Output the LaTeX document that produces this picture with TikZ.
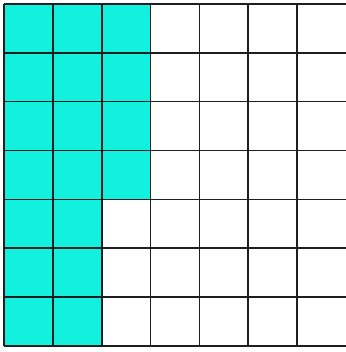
\documentclass[tikz,border=0pt]{standalone}
\definecolor{cellcyan}{RGB}{18,240,222}
\definecolor{gridline}{RGB}{30,30,30}
\tikzset{gridstroke/.style={draw=gridline,line width=1.6pt},
  filled/.style={fill=cellcyan}}
\begin{document}
\begin{tikzpicture}[x=1pt,y=-1pt]
\useasboundingbox (0,0) rectangle (345,352);
\pgfmathsetmacro{\s}{48.85}
% filled cells
\fill[cellcyan] (4,4) rectangle ({4+3*\s},{4+4*\s});
\fill[cellcyan] (4,{4+4*\s}) rectangle ({4+2*\s},{4+7*\s});
% grid
\foreach \i in {0,...,6} {
  \draw[gridstroke] ({4+\i*\s},4) -- ({4+\i*\s},{4+7*\s});
}
\foreach \j in {0,...,7} {
  \draw[gridstroke] (4,{4+\j*\s}) -- (346,{4+\j*\s});
}
\end{tikzpicture}
\end{document}
